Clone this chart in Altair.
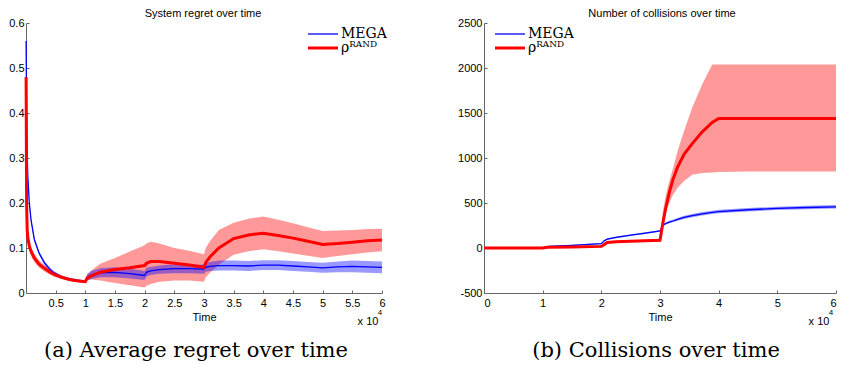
import altair as alt
import pandas as pd

SERIES = ["MEGA", "ρᴿᴬᴺᴰ"]

# ---------------- Panel (a): system regret (time in units of 1e4) ----------------
reg_t = [0.002, 0.01, 0.02, 0.03, 0.056, 0.084, 0.14, 0.22, 0.31, 0.4, 0.48, 0.6, 0.73, 0.86, 1.0,
         1.03, 1.1, 1.25, 1.5, 1.75, 2.0, 2.03, 2.1, 2.25, 2.5, 2.75, 3.0,
         3.03, 3.1, 3.25, 3.5, 3.75, 4.0, 4.25, 4.5, 4.75, 5.0, 5.25, 5.5, 5.75, 6.0]

mega_reg = [0.56, 0.40, 0.31, 0.26, 0.20, 0.163, 0.119, 0.089, 0.067, 0.053, 0.044, 0.036, 0.031, 0.028, 0.025,
            0.035, 0.040, 0.045, 0.046, 0.043, 0.039, 0.046, 0.049, 0.052, 0.054, 0.054, 0.053,
            0.057, 0.059, 0.061, 0.061, 0.060, 0.062, 0.062, 0.060, 0.058, 0.056, 0.058, 0.059, 0.058, 0.057]
mega_reg_lo = [0.55, 0.39, 0.30, 0.25, 0.195, 0.158, 0.114, 0.085, 0.063, 0.049, 0.040, 0.033, 0.028, 0.025, 0.022,
               0.028, 0.031, 0.035, 0.035, 0.032, 0.029, 0.036, 0.040, 0.043, 0.044, 0.044, 0.043,
               0.047, 0.049, 0.050, 0.050, 0.049, 0.051, 0.051, 0.049, 0.047, 0.045, 0.046, 0.046, 0.045, 0.044]
mega_reg_hi = [0.57, 0.41, 0.32, 0.27, 0.205, 0.168, 0.124, 0.093, 0.071, 0.057, 0.048, 0.039, 0.034, 0.031, 0.028,
               0.042, 0.049, 0.055, 0.057, 0.054, 0.049, 0.056, 0.058, 0.061, 0.064, 0.064, 0.063,
               0.067, 0.069, 0.072, 0.072, 0.071, 0.073, 0.073, 0.071, 0.069, 0.067, 0.070, 0.072, 0.071, 0.070]

rand_reg = [0.48, 0.20, 0.14, 0.125, 0.104, 0.093, 0.078, 0.064, 0.055, 0.047, 0.041, 0.035, 0.030, 0.027, 0.025,
            0.033, 0.038, 0.046, 0.052, 0.056, 0.061, 0.066, 0.070, 0.070, 0.066, 0.062, 0.057,
            0.068, 0.080, 0.100, 0.121, 0.129, 0.133, 0.128, 0.122, 0.115, 0.108, 0.110, 0.113, 0.116, 0.118]
rand_reg_lo = [0.115, 0.115, 0.11, 0.11, 0.094, 0.083, 0.069, 0.056, 0.048, 0.041, 0.036, 0.031, 0.027, 0.024, 0.022,
               0.028, 0.030, 0.028, 0.022, 0.017, 0.012, 0.016, 0.020, 0.025, 0.028, 0.028, 0.025,
               0.035, 0.045, 0.063, 0.085, 0.093, 0.097, 0.093, 0.088, 0.083, 0.078, 0.082, 0.086, 0.090, 0.093]
rand_reg_hi = [0.48, 0.22, 0.16, 0.14, 0.114, 0.103, 0.087, 0.072, 0.062, 0.053, 0.046, 0.039, 0.033, 0.030, 0.028,
               0.040, 0.050, 0.065, 0.078, 0.092, 0.106, 0.110, 0.114, 0.110, 0.100, 0.094, 0.086,
               0.100, 0.115, 0.140, 0.156, 0.165, 0.170, 0.163, 0.155, 0.146, 0.138, 0.139, 0.140, 0.142, 0.143]

# ---------------- Panel (b): number of collisions ----------------
col_t = [0, 0.5, 1.0, 1.05, 1.1, 1.5, 2.0, 2.05, 2.1, 2.25, 2.5, 2.75, 3.0,
         3.05, 3.1, 3.16, 3.22, 3.3, 3.41, 3.55, 3.72, 3.89, 4.0, 4.5, 5.0, 5.5, 6.0]

mega_col = [0, 0, 0, 12, 18, 30, 48, 80, 98, 118, 142, 165, 189,
            255, 272, 288, 300, 318, 340, 360, 380, 396, 405, 425, 440, 450, 458]
mega_col_lo = [0, 0, 0, 8, 13, 24, 41, 72, 90, 109, 133, 156, 180,
               243, 259, 274, 285, 302, 323, 342, 361, 377, 386, 406, 421, 431, 439]
mega_col_hi = [0, 0, 0, 16, 23, 36, 55, 88, 106, 127, 151, 174, 198,
               267, 285, 302, 315, 334, 357, 378, 399, 415, 424, 444, 459, 469, 477]

rand_col = [0, 0, 0, 6, 8, 12, 18, 40, 62, 70, 76, 81, 86,
            280, 450, 620, 760, 900, 1040, 1160, 1290, 1395, 1440, 1440, 1440, 1440, 1440]
rand_col_lo = [0, 0, 0, 2, 3, 6, 10, 30, 50, 60, 66, 70, 74,
               250, 400, 500, 590, 670, 745, 815, 832, 840, 845, 850, 850, 850, 850]
rand_col_hi = [0, 0, 0, 10, 13, 18, 26, 50, 74, 80, 86, 92, 98,
               410, 590, 745, 880, 1078, 1300, 1560, 1820, 2040, 2040, 2040, 2040, 2040, 2040]

reg_xticks = [0.5, 1, 1.5, 2, 2.5, 3, 3.5, 4, 4.5, 5, 5.5, 6]
reg_yticks = [0, 0.1, 0.2, 0.3, 0.4, 0.5, 0.6]
col_xticks = [0, 1, 2, 3, 4, 5, 6]
col_yticks = [-500, 0, 500, 1000, 1500, 2000, 2500]


def frame(t, mean, lo, hi, name):
    return pd.DataFrame({"t": t, "mean": mean, "lo": lo, "hi": hi, "series": name})


reg_df = pd.concat([frame(reg_t, mega_reg, mega_reg_lo, mega_reg_hi, SERIES[0]),
                    frame(reg_t, rand_reg, rand_reg_lo, rand_reg_hi, SERIES[1])], ignore_index=True)
col_df = pd.concat([frame(col_t, mega_col, mega_col_lo, mega_col_hi, SERIES[0]),
                    frame(col_t, rand_col, rand_col_lo, rand_col_hi, SERIES[1])], ignore_index=True)

AXIS_GREY = "#666666"
SERIF = "DejaVu Serif"
SANS = "Liberation Sans"


def label(text, x, y, size, font=SANS):
    return alt.Chart(pd.DataFrame({"c": [text]})).mark_text(
        font=font, fontSize=size, align="center", baseline="middle", color="#000").encode(
        text="c:N", x=alt.value(x), y=alt.value(y))


def panel(df, title, width, xticks, ydom, yticks, ylab_expr, legend_x, caption, sup_x, flush, cap_x, ttl_x):
    xs = alt.Scale(domain=[0, 6], nice=False, zero=False)
    ys = alt.Scale(domain=ydom, nice=False, zero=False)
    x_axis = alt.Axis(values=xticks, format="~g", title="Time", tickSize={"expr": "-3"},
                      labelPadding=7, titlePadding=3, labelFlush=flush)
    y_axis = alt.Axis(values=yticks, title=None, labelExpr=ylab_expr, tickSize={"expr": "-3"},
                      labelPadding=5)
    X = alt.X("t:Q", scale=xs, axis=x_axis)
    base = alt.Chart(df)
    leg = alt.Legend(title=None, orient="none", legendX=legend_x, legendY=4, symbolType="M-3,0H3",
                     symbolSize=100, labelFont=SERIF, labelFontSize=14, labelColor="#000",
                     rowPadding=0, labelOffset=11, padding=0)
    color = alt.Color("series:N", scale=alt.Scale(domain=SERIES, range=["#0000ff", "#ff0000"]), legend=leg)
    sw = alt.StrokeWidth("series:N", scale=alt.Scale(domain=SERIES, range=[1.3, 3.0]), legend=leg)

    band_r = base.transform_filter(alt.datum.series == SERIES[1]).mark_area(
        color="#ff0000", opacity=0.4).encode(x=X, y=alt.Y("lo:Q", scale=ys, axis=y_axis), y2="hi:Q")
    band_b = base.transform_filter(alt.datum.series == SERIES[0]).mark_area(
        color="#0000ff", opacity=0.4).encode(x=X, y=alt.Y("lo:Q", scale=ys, axis=y_axis), y2="hi:Q")
    line_b = base.transform_filter(alt.datum.series == SERIES[0]).mark_line().encode(
        x=X, y=alt.Y("mean:Q", scale=ys, axis=y_axis), color=color, strokeWidth=sw)
    line_r = base.transform_filter(alt.datum.series == SERIES[1]).mark_line().encode(
        x=X, y=alt.Y("mean:Q", scale=ys, axis=y_axis), color=color, strokeWidth=sw)

    ttl = label(title, ttl_x, -9, 11)
    cap = label(caption, cap_x, 328, 21, SERIF)
    mult = label("x 10", sup_x - 12, 299, 11)
    sup = label("4", sup_x, 290, 8)

    return alt.layer(band_r, band_b, line_b, line_r, ttl, cap, mult, sup).properties(
        width=width, height=270)


left = panel(reg_df, "System regret over time", 356, reg_xticks, [0, 0.6], reg_yticks,
             "datum.value == 0 ? '0' : format(datum.value, '.1f')", 290,
             "(a) Average regret over time", 354, False, 170, 177)
right = panel(col_df, "Number of collisions over time", 352, col_xticks, [-500, 2500], col_yticks,
              "'' + datum.value", 19, "(b) Collisions over time", 347, True, 172, 178)

chart = alt.hconcat(left, right, spacing=69).resolve_scale(
    color="independent", strokeWidth="independent").properties(
    padding={"left": 0, "top": 0, "right": 0, "bottom": 0}).configure_view(
    stroke=None).configure_axis(
    grid=False, domainColor=AXIS_GREY, tickColor=AXIS_GREY, labelFont=SANS,
    labelFontSize=11, labelColor="#000", titleFont=SANS, titleFontSize=11,
    titleFontWeight="normal", titleColor="#000")

chart.save("out.html", embed_options={"renderer": "svg", "actions": False})
